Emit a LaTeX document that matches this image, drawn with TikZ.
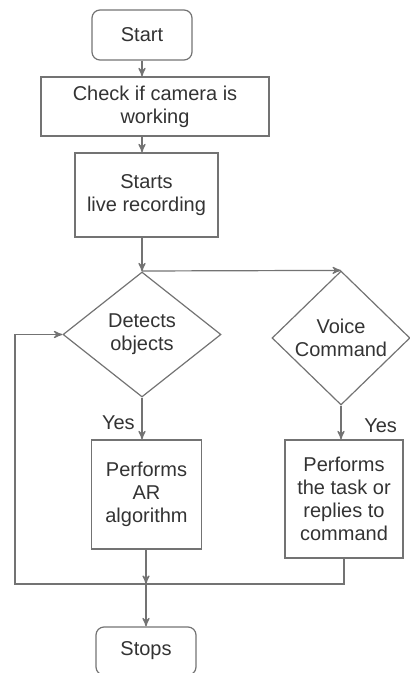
\documentclass[tikz,border=0pt]{standalone}
\usepackage{fontspec}
\setmainfont{Liberation Sans}
\usetikzlibrary{arrows,shapes.geometric,positioning}

\begin{document}
\begin{tikzpicture}[x=0.5pt,y=-0.5pt,->,>=stealth',line width=0.6pt,color=black!55,
  font=\fontsize{10}{11.5}\selectfont,
  box/.style={rectangle,draw,align=center,inner sep=2pt,text=black!80},
  term/.style={box,rounded corners=4pt,minimum width=50pt},
  decision/.style={diamond,draw,align=center,inner sep=0pt,text=black!80}]
  \useasboundingbox (0,0) rectangle (409,673);

  \node[term,minimum height=25pt]                          (START)  at (142,35)      {Start};
  \node[box,minimum width=114pt,minimum height=29.5pt]     (CHECK)  at (155,106.5)   {Check if camera is\\working};
  \node[box,minimum width=71.5pt,minimum height=42pt]      (REC)    at (146.5,195)   {Starts\\live recording};
  \node[decision,minimum width=79pt,minimum height=62.5pt] (DETECT) at (142,334.5)   {Detects\\objects};
  \node[decision,minimum width=69pt,minimum height=67pt]   (VOICE)  at (341,338)     {Voice\\Command};
  \node[box,minimum width=55pt,minimum height=54.5pt]      (AR)     at (146.5,494.5) {Performs\\AR\\algorithm};
  \node[box,minimum width=59pt,minimum height=59pt]        (TASK)   at (344,499)     {Performs\\the task or\\replies to\\command};
  \node[term,minimum height=24pt]                          (STOP)   at (146,651)     {Stops};

  \coordinate (SPLIT) at (142,271);
  \coordinate (JOIN)  at (146,584);
  \coordinate (LOOP)  at (15,584);

  \draw (START.south) -- (START.south |- CHECK.north);
  \draw (START.south |- CHECK.south) -- (START.south |- REC.north);
  \draw (DETECT.north |- REC.south) -- (DETECT.north);
  \draw (SPLIT) -- (VOICE.north);
  \draw (DETECT.south) -- node[pos=0.6,left,text=black!80] {Yes} (DETECT.south |- AR.north);
  \draw (VOICE.south) -- node[pos=0.6,right=8pt,text=black!80] {Yes} (VOICE.south |- TASK.north);
  \draw (AR.south -| JOIN) -- (JOIN);
  \draw (TASK.south) |- (LOOP) |- (DETECT.west);
  \draw (JOIN) -- (STOP.north);

\end{tikzpicture}
\end{document}
